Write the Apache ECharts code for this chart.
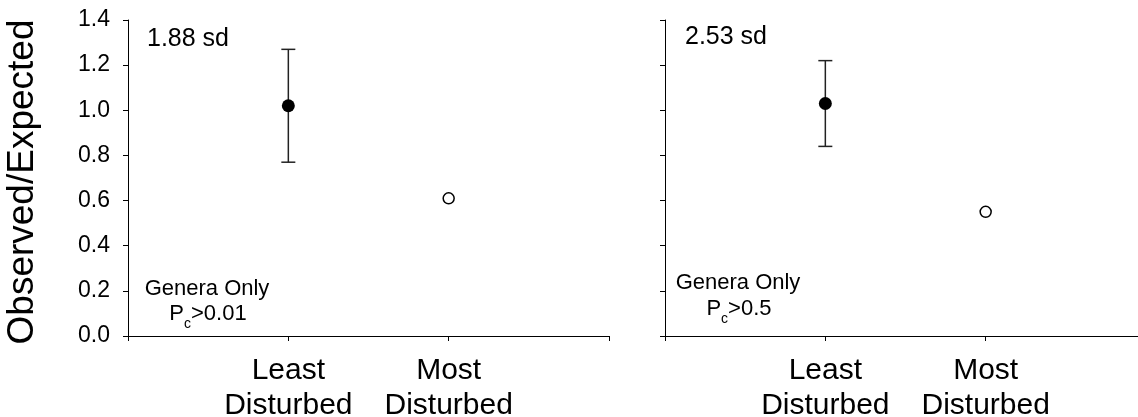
<!DOCTYPE html>
<html>
<head>
<meta charset="utf-8">
<script src="https://cdn.jsdelivr.net/npm/echarts@6/dist/echarts.min.js"></script>
<style>
html,body{margin:0;padding:0;background:#fff;}
#chart{width:1138px;height:417px;}
</style>
</head>
<body>
<div id="chart"></div>
<script>
// ---- data ----
const categories = ['', 'Least\nDisturbed', 'Most\nDisturbed', ''];
const yTicks = [0, 0.2, 0.4, 0.6, 0.8, 1.0, 1.2, 1.4];
// left panel (Pc > 0.01)
const leftLeastMean = 1.02;
const leftLeastLow = 0.77;
const leftLeastHigh = 1.27;
const leftMostMean = 0.61;
// right panel (Pc > 0.5)
const rightLeastMean = 1.03;
const rightLeastLow = 0.84;
const rightLeastHigh = 1.22;
const rightMostMean = 0.55;
const panelSd = ['1.88 sd', '2.53 sd'];
const panelPc = ['>0.01', '>0.5'];
const yAxisTitle = 'Observed/Expected';

const FONT = '"Liberation Sans", Arial, sans-serif';

const chart = echarts.init(document.getElementById('chart'), null, {renderer: 'canvas'});

function xAxisCfg(gridIndex) {
  return {
    type: 'category', gridIndex: gridIndex, data: categories, boundaryGap: false,
    axisLine: {show: true, lineStyle: {color: '#000', width: 1}},
    axisTick: {show: true, inside: false, length: 5, lineStyle: {color: '#000', width: 1}, alignWithLabel: true, interval: 0},
    axisLabel: {show: true, interval: 0, color: '#000', fontFamily: FONT, fontSize: 30, lineHeight: 35, margin: 17},
    splitLine: {show: false}
  };
}
function yAxisCfg(gridIndex, showLabels) {
  return {
    type: 'value', gridIndex: gridIndex, min: 0, max: 1.4, interval: 0.2,
    axisLine: {show: true, lineStyle: {color: '#000', width: 1}},
    axisTick: {show: true, inside: false, length: 5, lineStyle: {color: '#000', width: 1}},
    axisLabel: {show: showLabels, color: '#000', fontFamily: FONT, fontSize: 23, margin: 18,
      formatter: v => v.toFixed(1)},
    splitLine: {show: false}
  };
}

function errRender(params, api) {
  const x = api.value(0);
  const lo = api.coord([x, api.value(1)]);
  const hi = api.coord([x, api.value(2)]);
  const hw = 7;
  const st = {stroke: '#222', lineWidth: 1.5};
  return {type: 'group', children: [
    {type: 'line', shape: {x1: lo[0], y1: lo[1], x2: hi[0], y2: hi[1]}, style: st},
    {type: 'line', shape: {x1: lo[0] - hw, y1: lo[1], x2: lo[0] + hw, y2: lo[1]}, style: st},
    {type: 'line', shape: {x1: hi[0] - hw, y1: hi[1], x2: hi[0] + hw, y2: hi[1]}, style: st}
  ]};
}

const rich = {
  n: {fontSize: 22, fontFamily: FONT, color: '#000', lineHeight: 34},
  s: {fontSize: 14, fontFamily: FONT, color: '#000', lineHeight: 10, verticalAlign: 'bottom'}
};

function txt(x, y, text, size, align) {
  return {type: 'text', x: x, y: y, style: {text: text, fontSize: size, fontFamily: FONT, fill: '#000', align: align || 'left', verticalAlign: 'middle'}};
}

const option = {
  backgroundColor: '#fff',
  animation: false,
  grid: [
    {left: 128, top: 20, width: 481, height: 316, outerBoundsMode: 'none', containLabel: false},
    {left: 665, top: 20, width: 481, height: 316, outerBoundsMode: 'none', containLabel: false}
  ],
  xAxis: [xAxisCfg(0), xAxisCfg(1)],
  yAxis: [yAxisCfg(0, true), yAxisCfg(1, false)],
  series: [
    {type: 'custom', xAxisIndex: 0, yAxisIndex: 0, renderItem: errRender, z: 2,
      data: [[1, leftLeastLow, leftLeastHigh]]},
    {type: 'custom', xAxisIndex: 1, yAxisIndex: 1, renderItem: errRender, z: 2,
      data: [[1, rightLeastLow, rightLeastHigh]]},
    {type: 'scatter', xAxisIndex: 0, yAxisIndex: 0, symbol: 'circle', symbolSize: 13, z: 5,
      itemStyle: {color: '#000', opacity: 1}, data: [[1, leftLeastMean]]},
    {type: 'scatter', xAxisIndex: 0, yAxisIndex: 0, symbol: 'circle', symbolSize: 11, z: 5,
      itemStyle: {color: '#fff', borderColor: '#000', borderWidth: 1.5, opacity: 1}, data: [[2, leftMostMean]]},
    {type: 'scatter', xAxisIndex: 1, yAxisIndex: 1, symbol: 'circle', symbolSize: 13, z: 5,
      itemStyle: {color: '#000', opacity: 1}, data: [[1, rightLeastMean]]},
    {type: 'scatter', xAxisIndex: 1, yAxisIndex: 1, symbol: 'circle', symbolSize: 11, z: 5,
      itemStyle: {color: '#fff', borderColor: '#000', borderWidth: 1.5, opacity: 1}, data: [[2, rightMostMean]]}
  ],
  graphic: [
    {type: 'text', x: 23, y: 182, rotation: Math.PI / 2,
      style: {text: yAxisTitle, fontSize: 37, fontFamily: FONT, fill: '#000', align: 'center', verticalAlign: 'middle'}},
    txt(147, 39, panelSd[0], 25),
    txt(685, 37, panelSd[1], 25),
    txt(207, 289, 'Genera Only', 22, 'center'),
    txt(738, 283, 'Genera Only', 22, 'center'),
    {type: 'text', x: 208, y: 314, style: {text: '{n|P}{s|c}{n|' + panelPc[0] + '}', rich: rich, align: 'center', verticalAlign: 'middle', fontFamily: FONT}},
    {type: 'text', x: 739, y: 309, style: {text: '{n|P}{s|c}{n|' + panelPc[1] + '}', rich: rich, align: 'center', verticalAlign: 'middle', fontFamily: FONT}}
  ]
};
chart.setOption(option);
</script>
</body>
</html>
